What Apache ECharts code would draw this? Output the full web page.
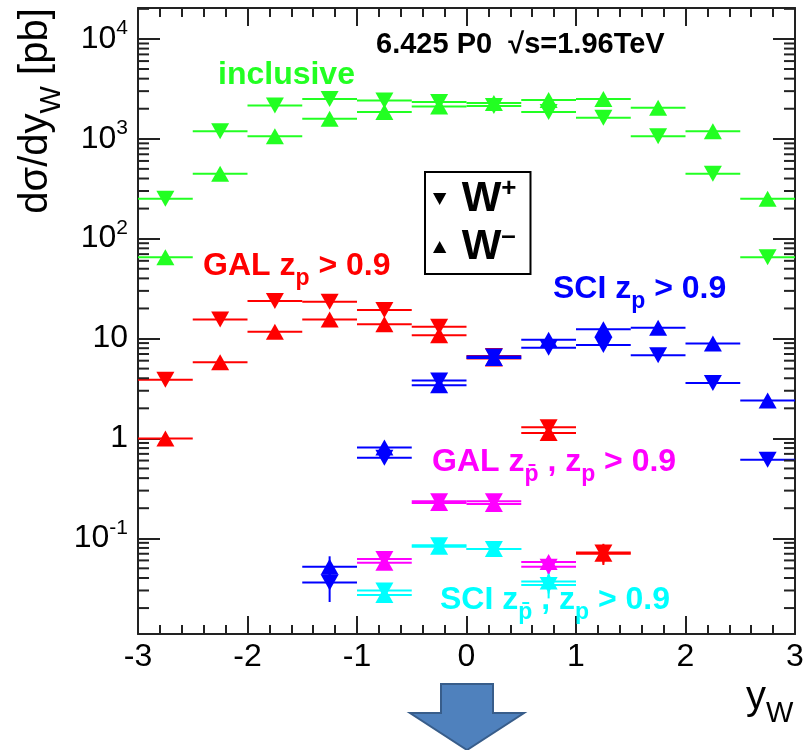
<!DOCTYPE html>
<html lang="en">
<head>
<meta charset="UTF-8">
<title>W rapidity</title>
<style>
    html, body { margin: 0; padding: 0; background: #fff; }
    #main { width: 803px; height: 750px; }
</style>
</head>
<body>
<div id="main"></div>
<script src="https://cdn.jsdelivr.net/npm/echarts@6/dist/echarts.min.js"></script>
<script>
// bins in y_W (width 0.5)
var binCenters = [-2.75, -2.25, -1.75, -1.25, -0.75, -0.25, 0.25, 0.75, 1.25, 1.75, 2.25, 2.75];
var binHalfWidth = 0.25;

// inclusive
var inclWplus  = [251, 1190, 2150, 2510, 2420, 2330, 2130, 1850, 1620, 1060, 447, 65];
var inclWminus = [65, 447, 1060, 1590, 1850, 2110, 2280, 2450, 2510, 2040, 1190, 251];
// GAL z_p > 0.9
var galWplus  = [3.86, 15.5, 23.8, 23.4, 19.3, 13.1, 6.7, 1.29, 0.072, null, null, null];
var galWminus = [1.0, 5.8, 11.7, 15.5, 13.9, 10.8, 6.3, 1.13, 0.070, null, null, null];
var galErr    = [null, null, null, null, null, null, null, null, 0.016, null, null, null];
// SCI z_p > 0.9
var sciWplus  = [null, null, null, 0.036, 0.64, 3.8, 6.6, 8.1, 8.6, 6.8, 3.58, 0.61];
var sciWminus = [null, null, null, 0.052, 0.81, 3.4, 6.4, 9.7, 12.4, 12.8, 8.9, 2.39];
var sciErrWplus  = [null, null, null, 0.013, null, null, null, null, null, null, null, null];
var sciErrWminus = [null, null, null, 0.014, null, null, null, null, null, null, null, null];
// GAL z_pbar, z_p > 0.9
var galBothWplus  = [null, null, null, null, 0.062, 0.235, 0.235, 0.052, null, null, null, null];
var galBothWminus = [null, null, null, null, 0.057, 0.225, 0.220, 0.058, null, null, null, null];
var galBothErr    = [null, null, null, null, null, null, null, 0.008, null, null, null, null];
// SCI z_pbar, z_p > 0.9
var sciBothWplus  = [null, null, null, null, 0.030, 0.085, 0.078, 0.034, null, null, null, null];
var sciBothWminus = [null, null, null, null, 0.027, 0.082, 0.078, 0.037, null, null, null, null];
var sciBothErr    = [null, null, null, null, null, null, null, 0.009, null, null, null, null];

// axes
var xMin = -3, xMax = 3;
var yMin = 0.011, yMax = 20400;
var yMinorTicks = [];
for (var k = -2; k <= 4; k++) {
    for (var m = 2; m <= 9; m++) {
        var t = m * Math.pow(10, k);
        if (t > yMin && t < yMax) yMinorTicks.push([xMin, t]);
    }
}

var FONT = '"Liberation Sans", Arial, Helvetica, sans-serif';
var GREEN = '#22ff22', RED = '#ff0000', BLUE = '#0000ff', MAGENTA = '#ff00ff', CYAN = '#00ffff';

function barSeries(values, errors, color) {
    var data = [];
    for (var i = 0; i < binCenters.length; i++) {
        if (values[i] == null) continue;
        data.push([binCenters[i], values[i], errors && errors[i] ? errors[i] : 0]);
    }
    return {
        type: 'custom',
        silent: true,
        data: data,
        encode: { x: 0, y: 1 },
        z: 2,
        renderItem: function (params, api) {
            var x = api.value(0), y = api.value(1), e = api.value(2);
            var a = api.coord([x - binHalfWidth, y]);
            var b = api.coord([x + binHalfWidth, y]);
            var kids = [{
                type: 'line',
                shape: { x1: a[0], y1: a[1], x2: b[0], y2: b[1] },
                style: { stroke: color, lineWidth: 2 }
            }];
            if (e > 0) {
                var lo = api.coord([x, y - e]), hi = api.coord([x, y + e]);
                kids.push({
                    type: 'line',
                    shape: { x1: lo[0], y1: lo[1], x2: hi[0], y2: hi[1] },
                    style: { stroke: color, lineWidth: 2 }
                });
            }
            return { type: 'group', children: kids };
        }
    };
}

function markerSeries(name, values, color, down) {
    var data = [];
    for (var i = 0; i < binCenters.length; i++) {
        if (values[i] == null) continue;
        data.push([binCenters[i], values[i]]);
    }
    return {
        type: 'scatter',
        name: name,
        silent: true,
        data: data,
        symbol: 'triangle',
        symbolSize: [18, 16],
        symbolRotate: down ? 180 : 0,
        itemStyle: { color: color, opacity: 1 },
        z: 3
    };
}

var series = [];
function addGroup(wp, wm, errP, errM, color) {
    series.push(barSeries(wp, errP, color));
    series.push(barSeries(wm, errM, color));
    series.push(markerSeries('W+', wp, color, true));
    series.push(markerSeries('W-', wm, color, false));
}
addGroup(inclWplus, inclWminus, null, null, GREEN);
addGroup(galWplus, galWminus, galErr, galErr, RED);
addGroup(sciWplus, sciWminus, sciErrWplus, sciErrWminus, BLUE);
addGroup(galBothWplus, galBothWminus, galBothErr, galBothErr, MAGENTA);
addGroup(sciBothWplus, sciBothWminus, sciBothErr, sciBothErr, CYAN);

// minor ticks of the log axis (2..9 x 10^k), on both frame sides
series.push({
    type: 'custom',
    silent: true,
    data: yMinorTicks,
    encode: { x: 0, y: 1 },
    z: 5,
    renderItem: function (params, api) {
        var v = api.value(1);
        var l = api.coord([xMin, v]), r = api.coord([xMax, v]);
        return {
            type: 'group',
            children: [
                { type: 'line', shape: { x1: l[0], y1: l[1], x2: l[0] + 11, y2: l[1] }, style: { stroke: '#222', lineWidth: 2 } },
                { type: 'line', shape: { x1: r[0], y1: r[1], x2: r[0] - 11, y2: r[1] }, style: { stroke: '#222', lineWidth: 2 } }
            ]
        };
    }
});

function xAxisOf(pos, labels) {
    return {
        type: 'value', position: pos, min: xMin, max: xMax, interval: 1,
        axisLine: { onZero: false, lineStyle: { color: '#222', width: 2 } },
        axisTick: { inside: true, length: 18, lineStyle: { color: '#222', width: 2 } },
        minorTick: { show: true, splitNumber: 5, length: 9, lineStyle: { color: '#222', width: 2 } },
        splitLine: { show: false },
        minorSplitLine: { show: false },
        axisLabel: { show: labels, fontSize: 32, fontFamily: FONT, color: '#000', margin: 7 }
    };
}
function yAxisOf(pos, labels) {
    return {
        type: 'log', logBase: 10, position: pos, min: yMin, max: yMax,
        axisLine: { onZero: false, lineStyle: { color: '#222', width: 2 } },
        axisTick: { inside: true, length: 22, lineStyle: { color: '#222', width: 2 } },
        splitLine: { show: false },
        axisLabel: {
            show: labels, showMinLabel: false, showMaxLabel: false,
            fontSize: 32, fontFamily: FONT, color: '#000', margin: 10, lineHeight: 42,
            formatter: function (v) {
                var e = Math.round(Math.log10(v));
                if (e === 0) return '1';
                if (e === 1) return '10';
                return '10{sup|' + e + '}';
            },
            rich: { sup: { fontSize: 21, lineHeight: 16, verticalAlign: 'top', fontFamily: FONT, color: '#000' } }
        }
    };
}

function richText(x, y, text, color, size, weight, rotation) {
    return {
        type: 'text', x: x, y: y, rotation: rotation || 0, z: 10, silent: true,
        style: {
            text: text, fill: color, fontFamily: FONT, fontWeight: weight, fontSize: size,
            lineHeight: Math.round(size * 1.5),
            align: rotation ? 'center' : 'left', textAlign: rotation ? 'center' : 'left',
            verticalAlign: 'middle', textVerticalAlign: 'middle',
            rich: {
                sub: { fontSize: Math.round(size * 0.72), lineHeight: Math.round(size * 0.5), verticalAlign: 'bottom', fill: color, fontWeight: weight, fontFamily: FONT },
                sup: { fontSize: Math.round(size * 0.66), lineHeight: Math.round(size * 0.78), verticalAlign: 'top', fill: color, fontWeight: weight, fontFamily: FONT }
            }
        }
    };
}

var chart = echarts.init(document.getElementById('main'));
var option = {
    animation: false,
    backgroundColor: '#fff',
    grid: { left: 138, right: 8, top: 8, bottom: 116, outerBoundsMode: 'none' },
    xAxis: [xAxisOf('bottom', true), xAxisOf('top', false)],
    yAxis: [yAxisOf('left', true), yAxisOf('right', false)],
    legend: {
        left: 425, top: 172, orient: 'vertical',
        backgroundColor: '#fff', borderColor: '#000', borderWidth: 2,
        padding: [4, 14, 4, 8], itemGap: 2, itemWidth: 14, itemHeight: 12,
        selectedMode: false,
        data: [
            { name: 'W+', icon: 'path://M0,0L10,0L5,9Z', itemStyle: { color: '#000' } },
            { name: 'W-', icon: 'path://M5,0L10,9L0,9Z', itemStyle: { color: '#000' } }
        ],
        formatter: function (name) {
            return name === 'W+' ? 'W{sup|+}' : 'W{sup|\u2013}';
        },
        textStyle: {
            fontSize: 42, fontWeight: 'bold', fontFamily: FONT, color: '#000', lineHeight: 46,
            padding: [0, 0, 0, 10],
            rich: { sup: { fontSize: 26, lineHeight: 16, verticalAlign: 'top', fontWeight: 'bold', fontFamily: FONT, color: '#000' } }
        }
    },
    graphic: [
        richText(376, 45, '6.425 P0  \u221As=1.96TeV', '#000', 29, 'bold'),
        richText(218, 75, 'inclusive', GREEN, 32, 'bold'),
        richText(203, 266, 'GAL z{sub|p} > 0.9', RED, 32, 'bold'),
        richText(553, 289, 'SCI z{sub|p} > 0.9', BLUE, 32, 'bold'),
        richText(432, 462, 'GAL z{sub|p\u0304} , z{sub|p} > 0.9', MAGENTA, 32, 'bold'),
        richText(440, 600, 'SCI z{sub|p\u0304} , z{sub|p} > 0.9', CYAN, 32, 'bold'),
        richText(36, 111, 'd\u03C3/dy{sub|W} [pb]', '#000', 40, 'normal', Math.PI / 2),
        richText(746, 698, 'y{sub|W}', '#000', 40, 'normal'),
        {
            type: 'polygon', silent: true, z: 10,
            shape: { points: [[441, 684], [493, 684], [493, 713], [524, 713], [467, 750], [410, 713], [441, 713]] },
            style: { fill: '#4f81bd', stroke: '#385d8a', lineWidth: 2 }
        }
    ],
    series: series
};
chart.setOption(option);
</script>
</body>
</html>
